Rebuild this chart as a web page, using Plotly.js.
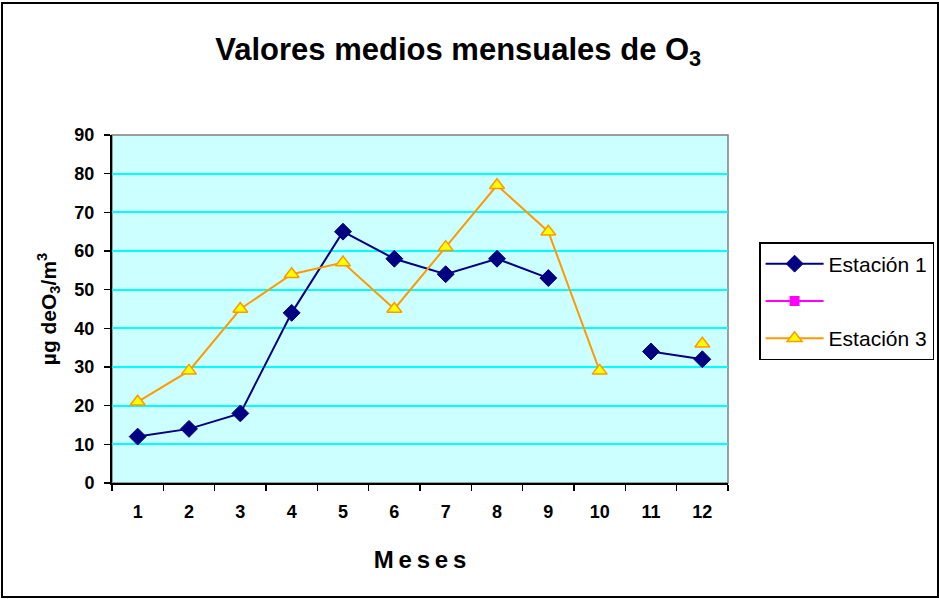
<!DOCTYPE html>
<html>
<head>
<meta charset="utf-8">
<script src="https://cdn.plot.ly/plotly-3.0.1.min.js"></script>
<style>
html,body{margin:0;padding:0;background:#fff;}
#chart{width:939px;height:599px;}
</style>
</head>
<body>
<div id="chart"></div>
<script>
const months = ['1','2','3','4','5','6','7','8','9','10','11','12'];
const estacion1 = [12, 14, 18, 44, 65, 58, 54, 58, 53, null, 34, 32];
const estacion2 = [null, null, null, null, null, null, null, null, null, null, null, null];
const estacion3 = [21, 29, 45, 54, 57, 45, 61, 77, 65, 29, null, 36];
const yTicks = [0,10,20,30,40,50,60,70,80,90];

const fam = 'Arial, Liberation Sans, sans-serif';
const f = (size, weight) => ({family: fam, color: '#000', size: size, weight: weight || 'normal'});

const traces = [
  {x: months, y: estacion1, name: 'Estación 1', type: 'scatter', mode: 'lines+markers',
   connectgaps: false, legendgroup: 'a',
   line: {color: '#000080', width: 2},
   marker: {symbol: 'diamond', size: 13, color: '#000080', line: {color: '#000080', width: 1}}},
  {x: months, y: estacion2, name: ' ', type: 'scatter', mode: 'lines+markers',
   legendgroup: 'b',
   line: {color: '#FF00FF', width: 2},
   marker: {symbol: 'square', size: 10, color: '#FF00FF'}},
  {x: months, y: estacion3, name: 'Estación 3', type: 'scatter', mode: 'lines+markers',
   connectgaps: false, legendgroup: 'c',
   line: {color: '#FF9900', width: 2},
   marker: {symbol: 'triangle-up', size: 13, color: '#FFFF00', line: {color: '#FF9900', width: 1.5}}}
];

const layout = {
  width: 939, height: 599,
  margin: {l: 112, r: 211, t: 135, b: 116, autoexpand: false},
  paper_bgcolor: '#fff',
  plot_bgcolor: '#CCFFFF',
  showlegend: true,
  title: {text: '<b>Valores medios mensuales de O<sub>3</sub></b>', x: 0.488, xanchor: 'center',
          y: 0.918, yanchor: 'middle', font: f(31)},
  xaxis: {type: 'category', range: [-0.5, 11.5], tickson: 'boundaries', ticks: 'outside', ticklen: 6, tickwidth: 1.5,
          tickcolor: '#000', showgrid: false, showline: true, linecolor: '#000', linewidth: 2,
          zeroline: false, fixedrange: true, ticklabelstandoff: 11, automargin: false,
          tickfont: f(18, 'bold'),
          title: {text: '<b>M\u2009e\u2009s\u2009e\u2009s</b>', standoff: 31, font: f(24)}},
  yaxis: {range: [0, 90], tickvals: yTicks, ticks: 'outside', ticklen: 6, tickwidth: 1.5, tickcolor: '#000',
          showgrid: true, gridcolor: '#00FFFF', gridwidth: 2, showline: true, linecolor: '#000', linewidth: 2,
          zeroline: false, fixedrange: true, ticklabelstandoff: 6, automargin: false,
          tickfont: f(18, 'bold'),
          title: {text: '<b>µg deO<sub>3</sub>/m<sup>3</sup></b>', standoff: 12, font: f(21)}},
  legend: {x: 1.0505, xanchor: 'left', y: 0.6925, yanchor: 'top', bgcolor: '#fff',
           bordercolor: '#000', borderwidth: 1.5, font: f(21),
           traceorder: 'grouped', tracegroupgap: 7, itemwidth: 58},
  shapes: [
    {type: 'rect', xref: 'paper', yref: 'paper', x0: 0, x1: 1, y0: 0, y1: 1,
     line: {color: '#808080', width: 1.5}, layer: 'below'},
    {type: 'rect', xref: 'paper', yref: 'paper',
     x0: -110/616, x1: 826/616, y0: -114/348, y1: 480/348,
     line: {color: '#000', width: 2}}
  ]
};

Plotly.newPlot('chart', traces, layout, {displayModeBar: false, staticPlot: true});
</script>
</body>
</html>
